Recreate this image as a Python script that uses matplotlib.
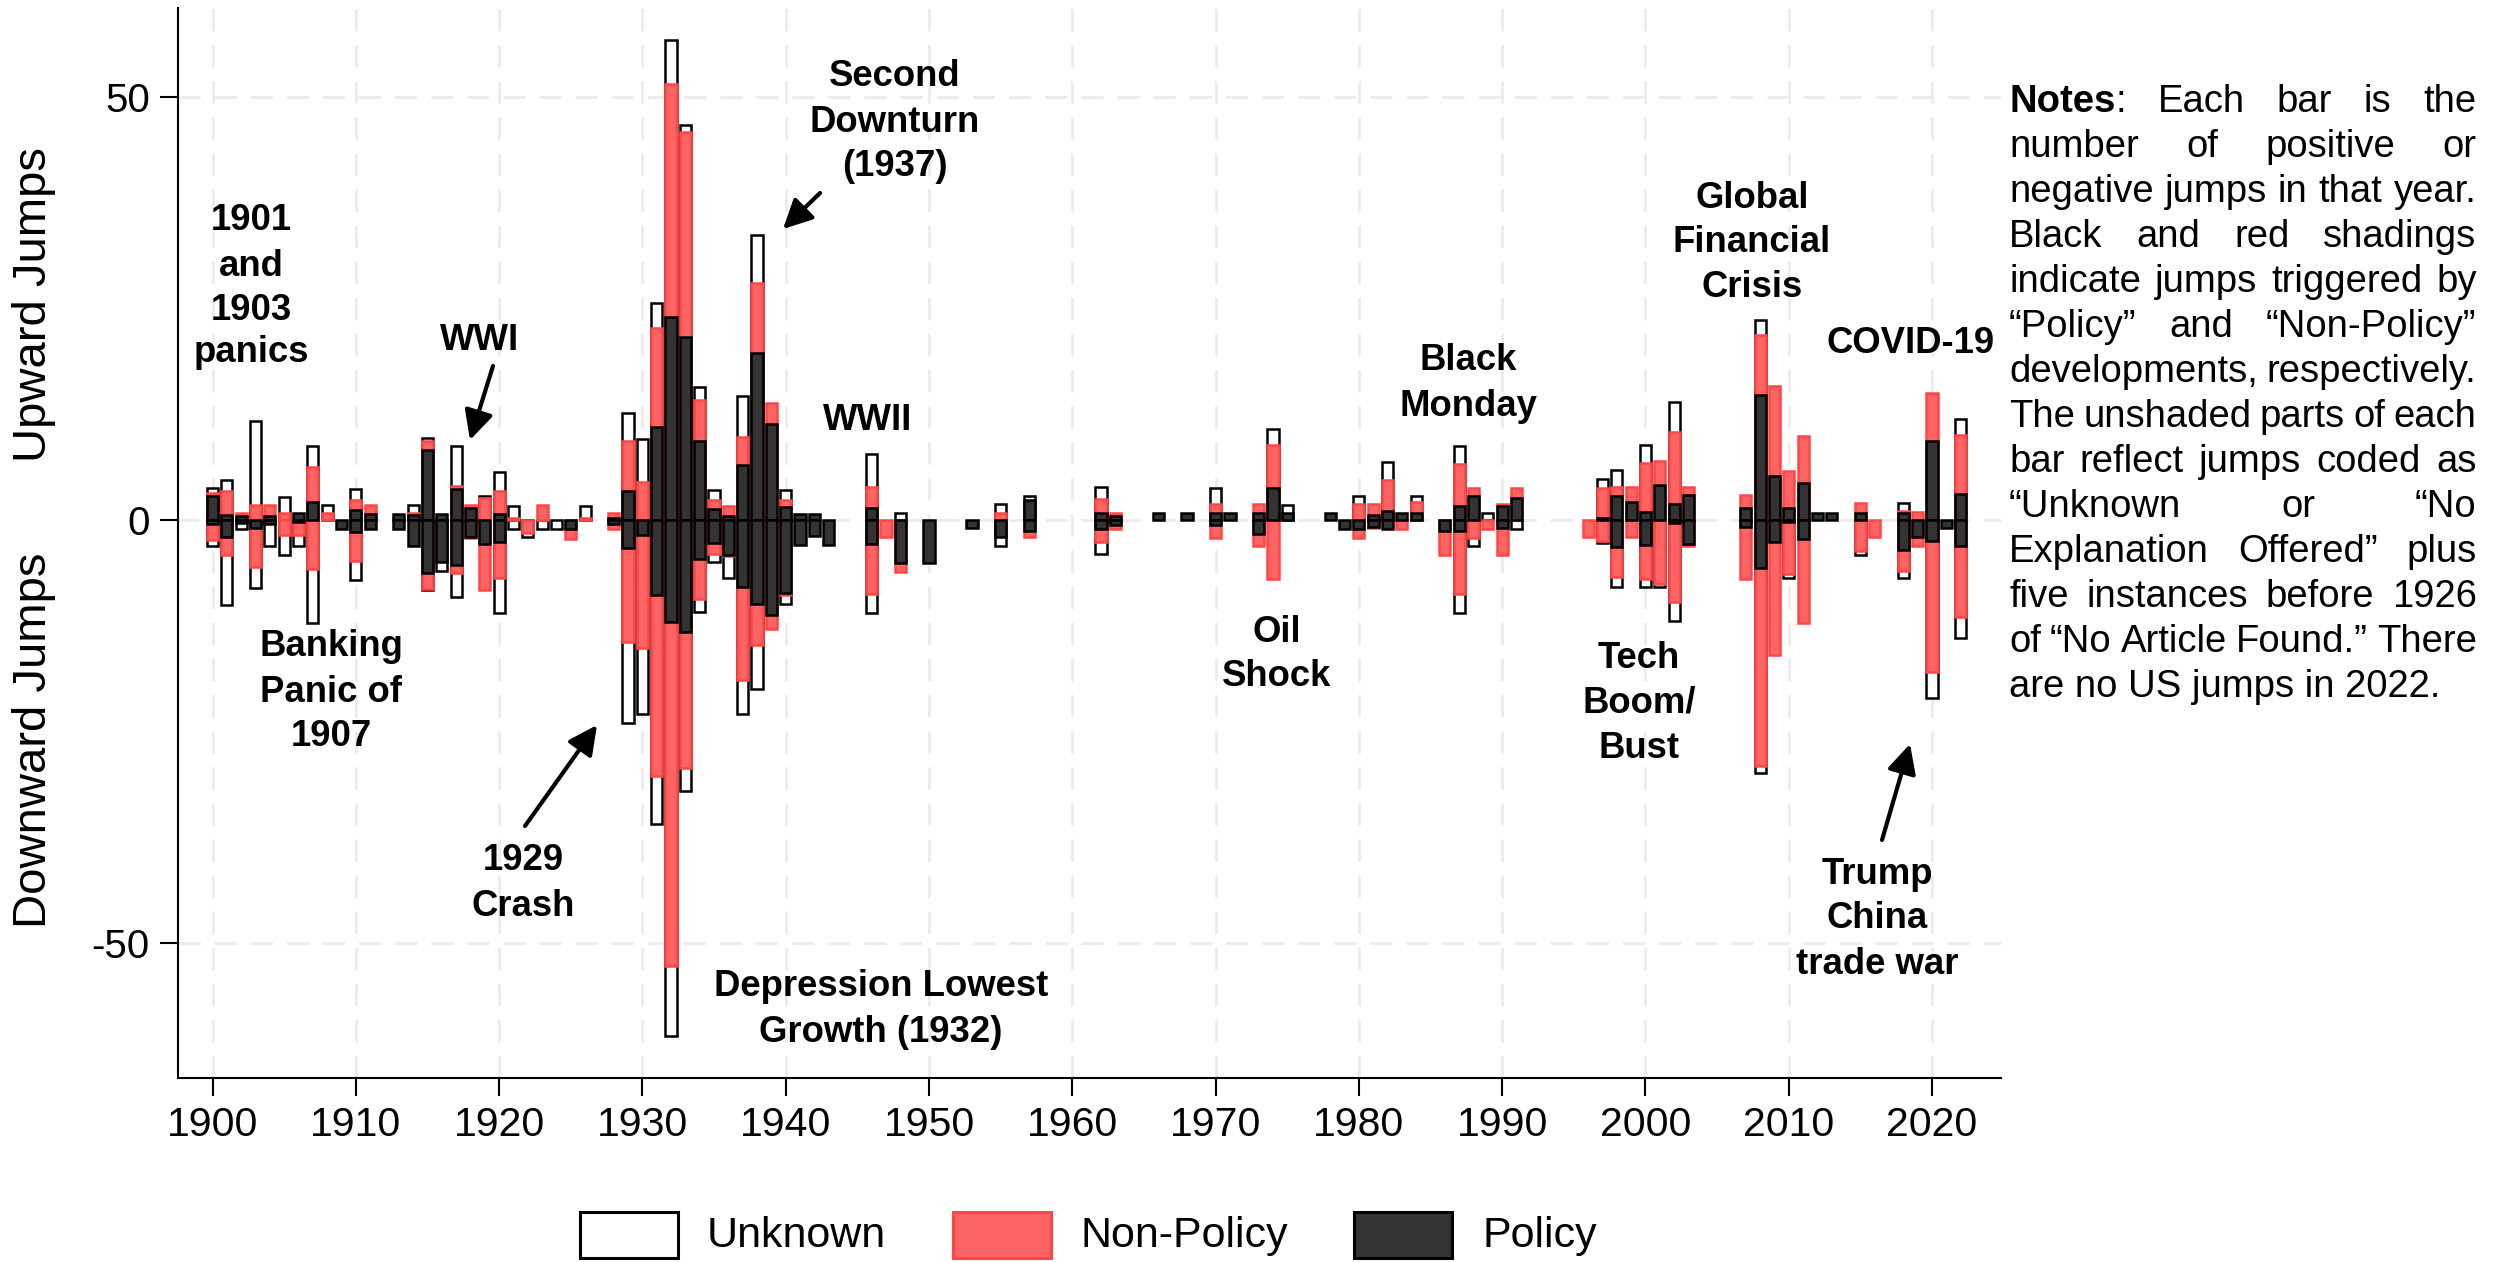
import numpy as np
import matplotlib
matplotlib.use("Agg")
import matplotlib.pyplot as plt
from matplotlib.patches import Rectangle
from matplotlib import font_manager

# ---------------- data ----------------
years = [1900, 1901, 1902, 1903, 1904, 1905, 1906, 1907, 1908, 1909, 1910, 1911,
         1913, 1914, 1915, 1916, 1917, 1918, 1919, 1920, 1921, 1922, 1923, 1924, 1925, 1926,
         1928, 1929, 1930, 1931, 1932, 1933, 1934, 1935, 1936, 1937, 1938, 1939, 1940, 1941, 1942, 1943,
         1946, 1947, 1948, 1950, 1953, 1955, 1957,
         1962, 1963, 1966, 1968,
         1970, 1971, 1973, 1974, 1975, 1978, 1979,
         1980, 1981, 1982, 1983, 1984, 1986, 1987, 1988, 1989,
         1990, 1991, 1996, 1997, 1998, 1999,
         2000, 2001, 2002, 2003, 2007, 2008, 2009,
         2010, 2011, 2012, 2013, 2015, 2016, 2018, 2019,
         2020, 2021, 2022]

pol_up = [2.8, 0.6, 0.5, 0.0, 0.5, 0.0, 0.8, 2.2, 0.0, 0.0, 1.2, 0.7,
          0.7, 0.6, 8.3, 0.7, 3.7, 1.4, 0.0, 0.7, 0.0, 0.0, 0.0, 0.0, 0.0, 0.0,
          0.3, 3.5, 0.0, 11.0, 24.0, 21.6, 9.4, 1.3, 0.5, 6.5, 19.7, 11.3, 1.5, 0.7, 0.7, 0.0,
          1.4, 0.0, 0.0, 0.0, 0.0, 0.0, 2.4,
          0.9, 0.5, 0.8, 0.8,
          0.8, 0.8, 0.9, 3.8, 0.9, 0.8, 0.0,
          0.0, 0.6, 1.1, 0.8, 0.8, 0.0, 1.7, 2.8, 0.0,
          1.7, 2.6, 0.0, 0.3, 2.9, 2.2,
          1.0, 4.2, 1.9, 3.0, 1.4, 14.8, 5.2,
          1.4, 4.4, 0.9, 0.9, 0.9, 0.0, 0.9, 0.0,
          9.3, 0.0, 3.1]

nonpol_up = [0.4, 2.9, 0.3, 1.8, 1.3, 0.8, 0.0, 4.1, 0.8, 0.0, 1.2, 1.1,
             0.0, 0.2, 1.1, 0.0, 0.3, 0.4, 2.6, 2.8, 0.2, 0.0, 1.8, 0.0, 0.0, 0.2,
             0.5, 5.8, 4.5, 11.7, 27.5, 24.3, 4.8, 1.1, 1.2, 3.3, 8.3, 2.5, 0.9, 0.0, 0.0, 0.0,
             2.5, 0.0, 0.0, 0.0, 0.0, 0.9, 0.0,
             1.6, 0.4, 0.0, 0.0,
             1.1, 0.0, 1.0, 5.1, 0.0, 0.0, 0.0,
             1.9, 1.3, 3.6, 0.0, 1.4, 0.0, 4.9, 1.0, 0.0,
             0.2, 1.2, 0.0, 3.5, 1.0, 1.7,
             5.7, 2.8, 8.5, 0.9, 1.6, 7.1, 10.6,
             4.4, 5.5, 0.0, 0.0, 1.1, 0.0, 0.2, 1.0,
             5.7, 0.0, 6.9]

unk_up = [0.6, 1.2, 0.0, 9.9, 0.0, 1.9, 0.0, 2.4, 1.0, 0.0, 1.3, 0.0,
          0.0, 1.0, 0.3, 0.0, 4.7, 0.0, 0.2, 2.2, 1.5, 0.0, 0.0, 0.0, 0.0, 1.5,
          0.0, 3.4, 5.1, 3.0, 5.2, 0.8, 1.5, 1.2, 0.0, 4.9, 5.7, 0.0, 1.2, 0.0, 0.0, 0.0,
          3.9, 0.0, 0.8, 0.0, 0.0, 1.0, 0.5,
          1.4, 0.0, 0.0, 0.0,
          1.9, 0.0, 0.0, 1.9, 0.9, 0.0, 0.0,
          0.9, 0.0, 2.2, 0.0, 0.6, 0.0, 2.2, 0.0, 0.9,
          0.0, 0.0, 0.0, 1.1, 2.0, 0.0,
          2.2, 0.0, 3.5, 0.0, 0.0, 1.8, 0.0,
          0.0, 0.0, 0.0, 0.0, 0.0, 0.0, 0.9, 0.0,
          0.0, 0.0, 1.9]

pol_dn = [0.4, 2.0, 0.3, 0.9, 0.4, 0.0, 0.2, 0.0, 0.0, 1.0, 1.4, 1.0,
          1.1, 3.0, 6.2, 5.0, 5.3, 2.0, 2.8, 2.6, 0.0, 0.0, 0.0, 0.0, 1.0, 0.0,
          0.4, 3.3, 1.8, 8.8, 12.0, 13.2, 4.6, 2.7, 4.1, 7.9, 9.9, 11.2, 8.6, 2.9, 1.9, 2.9,
          2.8, 0.0, 5.1, 5.1, 0.9, 2.0, 1.3,
          1.0, 0.6, 0.0, 0.0,
          0.6, 0.0, 1.6, 0.0, 0.0, 0.0, 1.0,
          1.0, 0.8, 1.0, 0.0, 0.0, 1.3, 1.3, 0.0, 0.0,
          0.9, 0.0, 0.0, 0.0, 3.2, 0.0,
          2.9, 0.0, 0.3, 2.8, 0.8, 5.6, 2.6,
          0.2, 2.2, 0.0, 0.0, 0.0, 0.0, 3.5, 2.0,
          2.5, 0.9, 3.1]

nonpol_dn = [2.0, 2.1, 0.0, 4.6, 0.0, 1.8, 1.6, 5.8, 0.0, 0.0, 3.4, 0.0,
             0.0, 0.0, 1.9, 0.0, 0.9, 0.1, 5.4, 4.2, 0.0, 1.5, 0.0, 0.0, 1.2, 0.0,
             0.7, 11.1, 13.3, 21.4, 40.7, 16.1, 4.7, 1.3, 0.1, 11.0, 4.9, 1.7, 0.3, 0.0, 0.0, 0.0,
             5.9, 2.0, 1.0, 0.0, 0.0, 0.0, 0.7,
             1.6, 0.4, 0.0, 0.0,
             1.5, 0.0, 1.4, 6.9, 0.0, 0.0, 0.0,
             1.1, 0.1, 0.0, 1.0, 0.0, 2.8, 7.4, 2.1, 1.0,
             3.2, 0.0, 2.0, 2.5, 3.5, 2.0,
             4.0, 7.5, 9.4, 0.2, 6.1, 23.5, 13.3,
             6.2, 9.9, 0.0, 0.0, 3.7, 2.0, 2.5, 1.0,
             15.4, 0.0, 8.4]

unk_dn = [0.7, 5.9, 0.7, 2.5, 2.6, 2.3, 1.2, 6.3, 0.0, 0.0, 2.3, 0.0,
          0.0, 0.0, 0.1, 1.0, 2.9, 0.0, 0.0, 4.2, 1.0, 0.5, 1.0, 1.0, 0.0, 0.0,
          0.0, 9.6, 7.8, 5.7, 8.2, 2.7, 1.6, 0.9, 2.6, 4.0, 5.1, 0.0, 1.0, 0.0, 0.0, 0.0,
          2.3, 0.0, 0.0, 0.0, 0.0, 1.0, 0.0,
          1.4, 0.0, 0.0, 0.0,
          0.0, 0.0, 0.0, 0.0, 0.0, 0.0, 0.0,
          0.0, 0.0, 0.0, 0.0, 0.0, 0.0, 2.3, 0.9, 0.0,
          0.0, 1.0, 0.0, 0.2, 1.2, 0.0,
          1.0, 0.4, 2.2, 0.0, 0.0, 0.8, 0.0,
          0.4, 0.0, 0.0, 0.0, 0.4, 0.0, 0.8, 0.0,
          3.1, 0.0, 2.4]

x_ticks = [1900, 1910, 1920, 1930, 1940, 1950, 1960, 1970, 1980, 1990, 2000, 2010, 2020]
y_ticks = [-50, 0, 50]
legend_labels = ["Unknown", "Non-Policy", "Policy"]

notes_lines = [
    "Notes: Each bar is the",
    "number of positive or",
    "negative jumps in that year.",
    "Black and red shadings",
    "indicate jumps triggered by",
    "\u201cPolicy\u201d and \u201cNon-Policy\u201d",
    "developments, respectively.",
    "The unshaded parts of each",
    "bar reflect jumps coded as",
    "\u201cUnknown or \u201cNo",
    "Explanation Offered\u201d plus",
    "five instances before 1926",
    "of \u201cNo Article Found.\u201d There",
    "are no US jumps in 2022.",
]

# ---------------- style ----------------
plt.rcParams['font.family'] = ['Liberation Sans', 'DejaVu Sans']
_names = {f.name for f in font_manager.fontManager.ttflist}
HAS_NARROW = 'Liberation Sans Narrow' in _names
NARROW = ['Liberation Sans Narrow', 'Liberation Sans'] if HAS_NARROW else ['Liberation Sans']
XT_FS = 34 if HAS_NARROW else 29.5
LEG_FS = 37 if HAS_NARROW else 31

RED = '#ff6464'
RED_EDGE = '#ff4545'
DARK = '#333333'

W, H = 2494, 1262
fig = plt.figure(figsize=(W / 100, H / 100), dpi=100)


def fx(px):
    return px / W


def fy(py):
    return 1 - py / H


ax = fig.add_axes([fx(177.7), fy(1078), (2001 - 177.7) / W, (1078 - 8) / H])

yrs = np.array(years, dtype=float)
pu, nu, uu = np.array(pol_up), np.array(nonpol_up), np.array(unk_up)
pdn, ndn, udn = np.array(pol_dn), np.array(nonpol_dn), np.array(unk_dn)

bw = 0.78
lw = 1.8

for sign, p, n, u in ((1, pu, nu, uu), (-1, pdn, ndn, udn)):
    m = u > 0
    ax.bar(yrs[m], sign * (p + n + u)[m], width=bw, color='white',
           edgecolor='black', linewidth=lw, zorder=2)
    m = n > 0
    ax.bar(yrs[m], sign * (p + n)[m], width=bw, color=RED,
           edgecolor=RED_EDGE, linewidth=lw, zorder=3)
    m = p > 0
    ax.bar(yrs[m], sign * p[m], width=bw, color=DARK,
           edgecolor='black', linewidth=lw, zorder=4)

ax.set_xlim(1897.57, 2024.81)
ax.set_ylim(-65.9, 60.5)
ax.set_xticks(x_ticks)
ax.set_xticklabels([str(v) for v in x_ticks], family=NARROW, fontsize=XT_FS)
ax.set_yticks(y_ticks)
ax.set_yticklabels([str(v) for v in y_ticks], fontsize=29)
ax.tick_params(axis='both', direction='out', length=13, width=1.5, pad=7,
               colors='black')
ax.set_axisbelow(True)
ax.grid(True, color='#ebebeb', linestyle=(0, (8, 5)), linewidth=2)
for s in ('top', 'right'):
    ax.spines[s].set_visible(False)
for s in ('left', 'bottom'):
    ax.spines[s].set_linewidth(1.5)

# axis titles
fig.text(fx(34), fy(305), "Upward Jumps", rotation=90, ha='center', va='center', fontsize=34)
fig.text(fx(34), fy(740), "Downward Jumps", rotation=90, ha='center', va='center', fontsize=34)

# ---------------- annotations ----------------
AFS = 26.3


def label(lines, x, ys):
    for s, y in zip(lines, ys):
        fig.text(fx(x), fy(y), s, ha='center', va='center', fontsize=AFS,
                 fontweight='bold')


label(["1901", "and", "1903", "panics"], 251, [221, 266, 310, 353])
label(["WWI"], 480, [340])
label(["Banking", "Panic of", "1907"], 331, [647, 692, 736])
label(["1929", "Crash"], 523, [860, 907])
label(["Depression Lowest", "Growth (1932)"], 881, [986, 1032])
label(["Second", "Downturn", "(1937)"], 895, [76, 122, 167])
label(["WWII"], 868, [420])
label(["Oil", "Shock"], 1277, [632, 677])
label(["Black", "Monday"], 1468, [361, 406])
label(["Tech", "Boom/", "Bust"], 1639, [659, 703, 748])
label(["Global", "Financial", "Crisis"], 1752, [199, 243, 288])
label(["COVID-19"], 1911, [343])
label(["Trump", "China", "trade war"], 1877, [875, 919, 964])


def arrow(tail, head):
    ax.annotate('', xy=(fx(head[0]), fy(head[1])), xytext=(fx(tail[0]), fy(tail[1])),
                xycoords='figure fraction', textcoords='figure fraction',
                arrowprops=dict(arrowstyle='-|>,head_length=0.8,head_width=0.4',
                                lw=3, color='black', shrinkA=0, shrinkB=0,
                                mutation_scale=22))


arrow((493, 366), (470, 440))
arrow((525, 826), (597, 725))
arrow((820, 193), (783, 229))
arrow((1882, 840), (1910, 744))

# ---------------- legend (manual) ----------------
boxes = [(580, 678, 'white', 'black', 707),
         (953, 1051, RED, RED_EDGE, 1080),
         (1354, 1452, DARK, 'black', 1482)]
for (x0, x1, fc, ec, tx), lab in zip(boxes, legend_labels):
    fig.add_artist(Rectangle((fx(x0), fy(1258)), (x1 - x0) / W, (1258 - 1212) / H,
                             transform=fig.transFigure, facecolor=fc, edgecolor=ec,
                             linewidth=2.2))
    fig.text(fx(tx), fy(1236), lab, ha='left', va='center', fontsize=LEG_FS,
             family=NARROW)

# ---------------- notes (justified) ----------------
NFS = 27.5
renderer = fig.canvas.get_renderer()
x_left, x_right = 2009.0, 2476.5
for i, line in enumerate(notes_lines):
    yb = 98.6 + 45.0 * i + 13.7
    if i == len(notes_lines) - 1:
        fig.text(fx(x_left), fy(yb), line, ha='left', va='baseline', fontsize=NFS)
        continue
    groups = []
    for wd in line.split(' '):
        if wd == 'Notes:':
            parts = [('Notes', 'bold'), (':', 'normal')]
        else:
            parts = [(wd, 'normal')]
        g = []
        for s, wt in parts:
            t = fig.text(0, fy(yb), s, ha='left', va='baseline', fontsize=NFS,
                         fontweight=wt)
            g.append((t, t.get_window_extent(renderer).width))
        groups.append(g)
    widths = [sum(w for _, w in g) for g in groups]
    gap = (x_right - x_left - sum(widths)) / (len(groups) - 1)
    x = x_left
    for g, wsum in zip(groups, widths):
        xx = x
        for t, w in g:
            t.set_x(fx(xx))
            xx += w
        x += wsum + gap

fig.savefig('out.png', dpi=100)
